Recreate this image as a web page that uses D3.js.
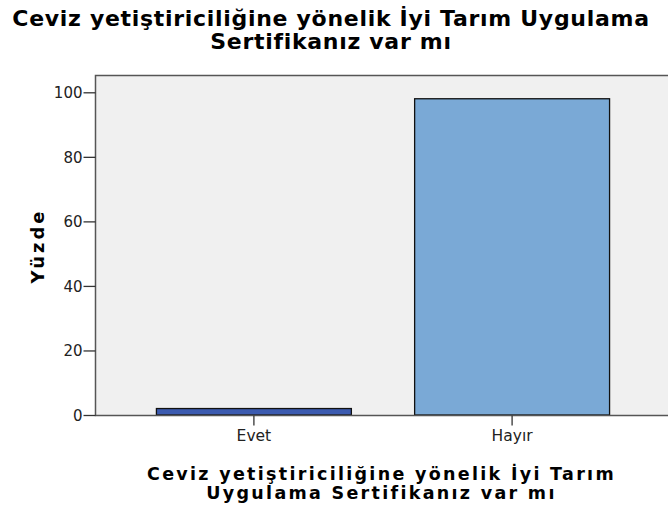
<!DOCTYPE html>
<html>
<head>
<meta charset="utf-8">
<script src="https://cdn.jsdelivr.net/npm/d3@7"></script>
<style>
  body { margin: 0; background: #fff; }
  svg { display: block; }
</style>
</head>
<body>
<svg id="drawing_region"></svg>
<script>
const categories = ["Evet", "Hayır"];
const percents = [2, 98];
const barColors = ["#3c5bb0", "#7aa9d6"];
const yTicks = [0, 20, 40, 60, 80, 100];
const titleLines = ["Ceviz yetiştiriciliğine yönelik İyi Tarım Uygulama", "Sertifikanız var mı"];
const xTitleLines = ["Ceviz yetiştiriciliğine yönelik İyi Tarım", "Uygulama Sertifikanız var mı"];
const yTitle = "Yüzde";

const data = categories.map((c, i) => ({label: c, value: percents[i], color: barColors[i]}));

const config = {
    width: 668,
    height: 516,
    plot: {left: 95, right: 670, top: 75, bottom: 415}
};

const font = "'DejaVu Sans', Verdana, sans-serif";

const svg = d3.select("#drawing_region")
    .attr("width", config.width)
    .attr("height", config.height)
    .style("font-family", font);

const p = config.plot;

const x = d3.scaleBand()
    .domain(categories)
    .range([p.left, p.right])
    .paddingInner(0.245)
    .paddingOuter(0.236);

// 100 sits at ~92px, 0 at 415px
const y = d3.scaleLinear()
    .domain([0, 100])
    .range([p.bottom, 92.3]);

// plot background
svg.append("rect")
    .attr("x", p.left)
    .attr("y", p.top)
    .attr("width", p.right - p.left)
    .attr("height", p.bottom - p.top)
    .attr("fill", "#f0f0f0");

// bars
svg.selectAll(".bar")
    .data(data)
    .enter()
    .append("rect")
    .attr("class", "bar")
    .attr("x", d => x(d.label) + 0.5)
    .attr("y", d => y(d.value))
    .attr("width", x.bandwidth())
    .attr("height", d => y(0) - y(d.value))
    .attr("fill", d => d.color)
    .attr("stroke", "#111")
    .attr("stroke-width", 1.3);

// frame
svg.append("path")
    .attr("d", `M${p.right},${p.top + 0.5}H${p.left + 0.5}V${p.bottom + 0.5}H${p.right}`)
    .attr("fill", "none")
    .attr("stroke", "#555")
    .attr("stroke-width", 1.5);

// y axis
const yAxis = svg.append("g")
    .attr("transform", `translate(${p.left + 0.5},0)`)
    .call(d3.axisLeft(y).tickValues(yTicks).tickSize(12).tickPadding(1));
yAxis.select(".domain").remove();
yAxis.selectAll(".tick line").attr("stroke", "#333").attr("stroke-width", 1.3);
yAxis.selectAll(".tick text")
    .attr("fill", "#222")
    .attr("dy", "0.36em")
    .style("font-size", "15px")
    .style("font-family", font);

// x axis
const xAxis = svg.append("g")
    .attr("transform", `translate(0.5,${p.bottom + 0.5})`)
    .call(d3.axisBottom(x).tickSize(10).tickPadding(4));
xAxis.select(".domain").remove();
xAxis.selectAll(".tick line").attr("stroke", "#333").attr("stroke-width", 1.3);
xAxis.selectAll(".tick text")
    .attr("fill", "#222")
    .style("font-size", "15.5px")
    .style("font-family", font);

// chart title
svg.append("text")
    .attr("text-anchor", "middle")
    .attr("font-size", "22px")
    .attr("font-weight", "bold")
    .attr("letter-spacing", "0.7px")
    .attr("fill", "#000")
    .selectAll("tspan")
    .data(titleLines)
    .enter()
    .append("tspan")
    .attr("x", 331)
    .attr("y", (d, i) => 26.3 + i * 22.3)
    .text(d => d);

// x axis title
svg.append("text")
    .attr("text-anchor", "middle")
    .attr("font-size", "17.5px")
    .attr("font-weight", "bold")
    .attr("letter-spacing", "2.3px")
    .attr("fill", "#000")
    .selectAll("tspan")
    .data(xTitleLines)
    .enter()
    .append("tspan")
    .attr("x", (p.left + p.right) / 2 - 1)
    .attr("y", (d, i) => 479.5 + i * 19)
    .text(d => d);

// y axis title
svg.append("text")
    .attr("transform", `translate(44,${(p.top + p.bottom) / 2 + 1}) rotate(-90)`)
    .attr("text-anchor", "middle")
    .attr("font-size", "18px")
    .attr("font-weight", "bold")
    .attr("letter-spacing", "3px")
    .attr("fill", "#000")
    .text(yTitle);
</script>
</body>
</html>
